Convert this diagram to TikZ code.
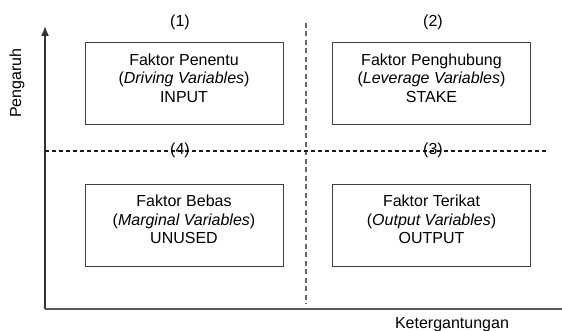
\documentclass[tikz,border=0pt]{standalone}
\usepackage{fontspec}
\setmainfont{Liberation Sans}
\usepackage{tikz}
\usetikzlibrary{positioning, shapes}
\usetikzlibrary{arrows.meta}

\begin{document}
\begin{tikzpicture}[x=1pt,y=1pt]
        \tikzset{axis/.style = {-{Latex[length=10pt,width=8pt]},line width=1.6pt,draw=black!80}}
        \tikzset{divide/.style = {line width=1.1pt,dash pattern=on 4pt off 3pt,draw=black!90}}
        \tikzset{divideV/.style = {line width=1.1pt,dash pattern=on 5pt off 3.5pt,draw=black!60}}
        \tikzset{quad/.style = {draw=black!75,line width=1pt,minimum width=198pt,minimum height=82pt}}
        \tikzset{txt/.style = {font=\fontsize{16}{18.5}\selectfont,align=center,inner sep=0pt}}
        \tikzset{num/.style = {font=\fontsize{16}{18.5}\selectfont,inner sep=1pt}}

        \useasboundingbox (0,0) rectangle (562,331);

        % axes
        \coordinate (origin) at (45, 22);
        \coordinate (ytop) at (45, 305);
        \coordinate (xend) at (572, 22);
        \draw[axis] (origin) -- (ytop);
        \draw[axis,draw=black!65] (origin) -- (xend);
        \node[txt, rotate=90] (yl) at (17, 248) {Pengaruh};
        \node[txt] (xl) at (452, 6) {Ketergantungan};

        % dividing lines
        \coordinate (hl) at (45, 180);
        \coordinate (hr) at (548, 180);
        \coordinate (vt) at (306, 308);
        \coordinate (vb) at (306, 27);
        \draw[divideV] (vt) -- (vb);
        \draw[divide] (hl) -- (hr);

        % quadrants
        \node[quad] (drive) at (184, 247) {};
        \node[quad] (lever) at (431.5, 247) {};
        \node[quad] (marg) at (184, 105.5) {};
        \node[quad] (outp) at (431.5, 105.5) {};

        \node[txt] (drivet) at ([yshift=6pt]drive.center) {Faktor Penentu\\(\textit{Driving Variables})\\INPUT};
        \node[txt] (levert) at ([yshift=6pt]lever.center) {Faktor Penghubung\\(\textit{Leverage Variables})\\STAKE};
        \node[txt] (margt) at ([yshift=6pt]marg.center) {Faktor Bebas\\(\textit{Marginal Variables})\\UNUSED};
        \node[txt] (outpt) at ([yshift=6pt]outp.center) {Faktor Terikat\\(\textit{Output Variables})\\OUTPUT};

        % numbers
        \node[num] (n1) at (180, 309) {(1)};
        \node[num] (n2) at (433, 309) {(2)};
        \node[num] (n4) at (180, 181) {(4)};
        \node[num] (n3) at (433, 181) {(3)};

        \end{tikzpicture}
\end{document}
